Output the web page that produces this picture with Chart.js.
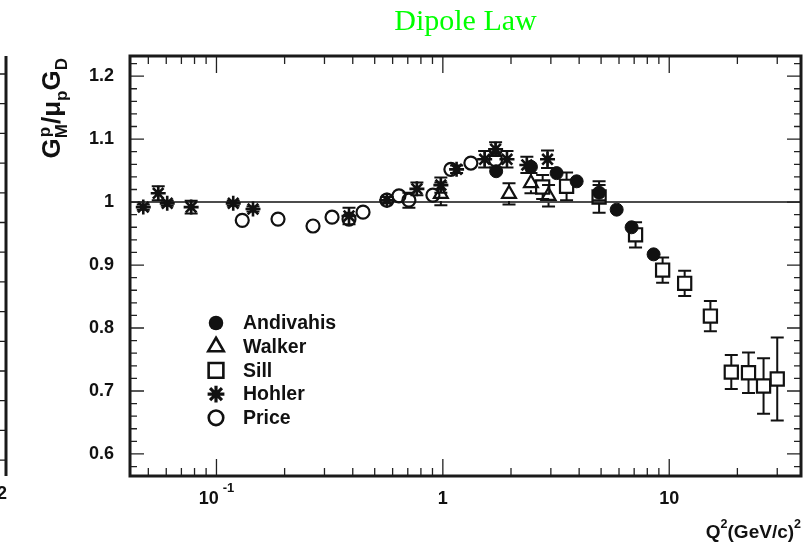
<!DOCTYPE html>
<html>
<head>
<meta charset="utf-8">
<script src="https://cdn.jsdelivr.net/npm/chart.js@4.4.0/dist/chart.umd.min.js"></script>
<style>
  html, body { margin:0; padding:0; background:#fff; }
  canvas { display:block; }
</style>
</head>
<body>
<canvas id="dipoleChart" width="807" height="553"></canvas>
<script>
// values: Q^2 in (GeV/c)^2, ratio G_M^p / (mu_p G_D)
const andivahisQ2    = [1.72, 2.45, 3.18, 3.9, 4.9, 5.86, 6.82, 8.53];
const andivahisRatio = [1.049, 1.056, 1.046, 1.033, 1.015, 0.988, 0.960, 0.917];
const andivahisErr   = [0.008, 0.008, 0.008, 0.009, 0.012, 0.009, 0.009, 0.009];

const walkerQ2    = [0.98, 1.96, 2.45, 2.93];
const walkerRatio = [1.013, 1.013, 1.030, 1.010];
const walkerErr   = [0.018, 0.017, 0.016, 0.017];

const sillQ2    = [2.76, 3.52, 4.9, 7.1, 9.35, 11.7, 15.2, 18.8, 22.4, 26.1, 30.0];
const sillRatio = [1.024, 1.025, 1.008, 0.948, 0.892, 0.871, 0.819, 0.730, 0.729, 0.708, 0.719];
const sillErr   = [0.019, 0.022, 0.025, 0.020, 0.020, 0.020, 0.024, 0.027, 0.032, 0.044, 0.066];

const hohlerQ2    = [0.0475, 0.0553, 0.0606, 0.0773, 0.1186, 0.145, 0.385, 0.566, 0.768, 0.98, 1.15, 1.53, 1.71, 1.92, 2.35, 2.9];
const hohlerRatio = [0.992, 1.014, 0.998, 0.992, 0.998, 0.989, 0.978, 1.003, 1.021, 1.027, 1.052, 1.068, 1.084, 1.068, 1.059, 1.068];
const hohlerErr   = [0.004, 0.011, 0.004, 0.010, 0.004, 0.004, 0.013, 0.005, 0.010, 0.012, 0.006, 0.013, 0.011, 0.013, 0.013, 0.014];

const priceQ2    = [0.13, 0.187, 0.267, 0.324, 0.385, 0.444, 0.566, 0.64, 0.708, 0.904, 1.085, 1.33, 1.71];
const priceRatio = [0.971, 0.973, 0.962, 0.976, 0.973, 0.984, 1.003, 1.010, 1.003, 1.011, 1.052, 1.062, 1.067];
const priceErr   = [0.004, 0.004, 0.010, 0.004, 0.010, 0.004, 0.004, 0.010, 0.012, 0.010, 0.004, 0.004, 0.012];

const seriesNames = ['Andivahis', 'Walker', 'Sill', 'Hohler', 'Price'];

const yTickValues = [0.6, 0.7, 0.8, 0.9, 1.0, 1.1, 1.2];
const yTickLabels = ['0.6', '0.7', '0.8', '0.9', '1', '1.1', '1.2'];
const xTickValues = [0.1, 1, 10];
const xTickLabels = [['10', '-1'], ['1', ''], ['10', '']];

const FONT = "'Liberation Sans', Arial, Helvetica, sans-serif";

function pts(xs, ys) { return xs.map((x, i) => ({x: x, y: ys[i]})); }

function series(label, xs, ys, errs, style, filled, radius, gap, bw) {
  return {
    label: label,
    data: pts(xs, ys),
    errs: errs,
    errGap: gap,
    pointStyle: style,
    pointRadius: radius,
    pointHoverRadius: radius,
    pointBorderWidth: bw,
    pointBorderColor: '#111',
    pointBackgroundColor: filled ? '#111' : 'rgba(0,0,0,0)',
    showLine: false
  };
}

const datasets = [
  series(seriesNames[0], andivahisQ2, andivahisRatio, andivahisErr, 'circle', true, 6.5, 7, 1),
  series(seriesNames[1], walkerQ2, walkerRatio, walkerErr, 'triangle', false, 8, 7, 2.2),
  series(seriesNames[2], sillQ2, sillRatio, sillErr, 'rect', false, 9.3, 7, 2.2),
  series(seriesNames[3], hohlerQ2, hohlerRatio, hohlerErr, 'star', false, 7.5, 0, 2.6),
  series(seriesNames[4], priceQ2, priceRatio, priceErr, 'circle', false, 6.5, 7, 2.2)
];

function drawMarker(ctx, ds, x, y, scale) {
  ctx.save();
  ctx.lineWidth = 2.6;
  ctx.strokeStyle = '#111';
  ctx.fillStyle = '#111';
  const r = ds.pointRadius * scale;
  ctx.beginPath();
  if (ds.pointStyle === 'circle') {
    ctx.arc(x, y, r, 0, Math.PI * 2);
    if (ds.pointBackgroundColor === '#111') ctx.fill(); else ctx.stroke();
  } else if (ds.pointStyle === 'triangle') {
    ctx.moveTo(x, y - r);
    ctx.lineTo(x + r * 0.866, y + r * 0.5);
    ctx.lineTo(x - r * 0.866, y + r * 0.5);
    ctx.closePath();
    ctx.stroke();
  } else if (ds.pointStyle === 'rect') {
    const s = r * Math.SQRT1_2;
    ctx.rect(x - s, y - s, 2 * s, 2 * s);
    ctx.stroke();
  } else {
    ctx.lineWidth = 3.2;
    for (let k = 0; k < 4; k++) {
      const a = k * Math.PI / 4;
      ctx.moveTo(x - Math.cos(a) * r, y - Math.sin(a) * r);
      ctx.lineTo(x + Math.cos(a) * r, y + Math.sin(a) * r);
    }
    ctx.stroke();
  }
  ctx.restore();
}

const rootStyle = {
  id: 'rootStyle',
  beforeDatasetsDraw(chart) {
    const {ctx, chartArea, scales: {x, y}} = chart;
    ctx.save();
    ctx.beginPath();
    ctx.rect(chartArea.left, chartArea.top, chartArea.right - chartArea.left, chartArea.bottom - chartArea.top);
    ctx.clip();
    // dipole reference line
    ctx.strokeStyle = '#111';
    ctx.lineWidth = 1.5;
    ctx.beginPath();
    ctx.moveTo(chartArea.left, y.getPixelForValue(1));
    ctx.lineTo(chartArea.right, y.getPixelForValue(1));
    ctx.stroke();
    // error bars
    ctx.lineWidth = 2;
    chart.data.datasets.forEach(ds => {
      ds.data.forEach((p, i) => {
        const px = x.getPixelForValue(p.x);
        const cy = y.getPixelForValue(p.y);
        const top = y.getPixelForValue(p.y + ds.errs[i]);
        const bot = y.getPixelForValue(p.y - ds.errs[i]);
        if (cy - top <= ds.errGap + 0.5) return;
        ctx.beginPath();
        ctx.moveTo(px, top); ctx.lineTo(px, cy - ds.errGap);
        ctx.moveTo(px, cy + ds.errGap); ctx.lineTo(px, bot);
        ctx.moveTo(px - 6.5, top); ctx.lineTo(px + 6.5, top);
        ctx.moveTo(px - 6.5, bot); ctx.lineTo(px + 6.5, bot);
        ctx.stroke();
      });
    });
    ctx.restore();
  },
  afterDraw(chart) {
    const {ctx, chartArea: a, scales: {x, y}} = chart;
    ctx.save();
    ctx.strokeStyle = '#222';
    ctx.lineWidth = 1.3;
    // y ticks, inside, both sides
    ctx.beginPath();
    for (let k = 0; k <= 40; k++) {
      const v = 0.56 + k * 0.02;
      if (v < y.min || v > y.max) continue;
      const py = y.getPixelForValue(v);
      const major = Math.abs((v * 10) - Math.round(v * 10)) < 1e-6;
      const len = major ? 14 : 7;
      ctx.moveTo(a.left, py); ctx.lineTo(a.left + len, py);
      ctx.moveTo(a.right, py); ctx.lineTo(a.right - len, py);
    }
    // x ticks, inside, top and bottom
    for (let e = -2; e <= 1; e++) {
      for (let m = 1; m <= 9; m++) {
        const v = m * Math.pow(10, e);
        if (v < x.min || v > x.max) continue;
        const px = x.getPixelForValue(v);
        const len = m === 1 ? 17 : 8;
        ctx.moveTo(px, a.bottom); ctx.lineTo(px, a.bottom - len);
        ctx.moveTo(px, a.top); ctx.lineTo(px, a.top + len);
      }
    }
    ctx.stroke();
    // frame
    ctx.strokeStyle = '#1a1a1a';
    ctx.lineWidth = 3;
    ctx.strokeRect(a.left, a.top, a.right - a.left, a.bottom - a.top);

    // x tick labels with exponents
    ctx.fillStyle = '#111';
    ctx.textBaseline = 'alphabetic';
    xTickValues.forEach((v, i) => {
      const px = x.getPixelForValue(v);
      const [base, exp] = xTickLabels[i];
      ctx.font = 'bold 18px ' + FONT;
      const wb = ctx.measureText(base).width;
      ctx.font = 'bold 13px ' + FONT;
      const we = exp ? ctx.measureText(exp).width + 4 : 0;
      const x0 = px - (wb + we) / 2;
      ctx.font = 'bold 18px ' + FONT;
      ctx.textAlign = 'left';
      ctx.fillText(base, x0, a.bottom + 28);
      if (exp) {
        ctx.font = 'bold 13px ' + FONT;
        ctx.fillText(exp, x0 + wb + 4, a.bottom + 16);
      }
    });

    // x axis title  Q^2(GeV/c)^2 right aligned
    const xt = [['Q', 19, 0], ['2', 12.5, -10], ['(GeV/c)', 19, 0], ['2', 12.5, -10]];
    let widths = xt.map(t => { ctx.font = 'bold ' + t[1] + 'px ' + FONT; return ctx.measureText(t[0]).width; });
    let cx = a.right - widths.reduce((s, w) => s + w, 0);
    xt.forEach((t, i) => {
      ctx.font = 'bold ' + t[1] + 'px ' + FONT;
      ctx.fillText(t[0], cx, 538 + t[2]);
      cx += widths[i];
    });

    // y axis title, rotated, ending at top of frame
    const yt = [['G', 26, 0], ['M', 17, 7], ['p', 17, -10], ['/', 26, 0], ['\u03bc', 26, 0], ['p', 17, 7], ['G', 26, 0], ['D', 17, 7]];
    widths = yt.map(t => { ctx.font = 'bold ' + t[1] + 'px ' + FONT; return ctx.measureText(t[0]).width; });
    ctx.save();
    ctx.translate(60, a.top + 2);
    ctx.rotate(-Math.PI / 2);
    let tx = -widths.reduce((s, w, i) => i === 2 ? s : s + w, 0);
    yt.forEach((t, i) => {
      ctx.font = 'bold ' + t[1] + 'px ' + FONT;
      // superscript p sits over the M subscript
      if (i === 2) { ctx.fillText(t[0], tx - widths[1] + 1, t[2]); return; }
      ctx.fillText(t[0], tx, t[2]);
      tx += widths[i];
    });
    ctx.restore();

    // legend
    ctx.textAlign = 'left';
    ctx.textBaseline = 'middle';
    ctx.font = 'bold 19.5px ' + FONT;
    chart.data.datasets.forEach((ds, i) => {
      const ly = 323 + i * 23.7;
      drawMarker(ctx, ds, 216, ly, 1.12);
      ctx.fillStyle = '#111';
      ctx.fillText(ds.label, 243, ly + 1);
    });

    // edge of the neighbouring panel on the left
    ctx.strokeStyle = '#1a1a1a';
    ctx.lineWidth = 3;
    ctx.beginPath();
    ctx.moveTo(6, a.top); ctx.lineTo(6, a.bottom);
    ctx.stroke();
    ctx.lineWidth = 1.3;
    ctx.beginPath();
    for (let py = 74; py < a.bottom - 4; py += 29.7) {
      ctx.moveTo(0, py); ctx.lineTo(6, py);
    }
    ctx.stroke();
    ctx.textBaseline = 'alphabetic';
    ctx.font = 'bold 18px ' + FONT;
    ctx.fillText('2', -3, 499);
    ctx.restore();
  }
};

new Chart(document.getElementById('dipoleChart'), {
  type: 'scatter',
  data: { datasets: datasets },
  options: {
    responsive: false,
    animation: false,
    layout: { autoPadding: false, padding: { left: 0, right: 6, top: 0, bottom: 0 } },
    plugins: {
      legend: { display: false },
      tooltip: { enabled: false },
      title: {
        display: true,
        text: 'Dipole Law',
        color: '#00ff00',
        fullSize: false,
        font: { family: "'Liberation Serif', 'Times New Roman', serif", size: 30, weight: 'normal', lineHeight: 1.2 },
        padding: { top: 4, bottom: 56 - 4 - 30 * 1.2 }
      }
    },
    scales: {
      x: {
        type: 'logarithmic',
        min: 0.0415,
        max: 38.2,
        grid: { display: false, drawTicks: false },
        border: { display: false },
        ticks: { display: false },
        afterFit(scale) { scale.height = 553 - 476; scale.paddingLeft = 0; scale.paddingRight = 0; }
      },
      y: {
        min: 0.565,
        max: 1.232,
        grid: { display: false, drawTicks: false },
        border: { display: false },
        afterBuildTicks(scale) { scale.ticks = yTickValues.map(v => ({ value: v })); },
        ticks: {
          color: '#111',
          padding: 16,
          font: { family: FONT, size: 18, weight: 'bold' },
          callback: (v) => yTickLabels[yTickValues.indexOf(v)]
        },
        afterFit(scale) { scale.width = 130; scale.paddingTop = 0; scale.paddingBottom = 0; }
      }
    }
  },
  plugins: [rootStyle]
});
</script>
</body>
</html>
